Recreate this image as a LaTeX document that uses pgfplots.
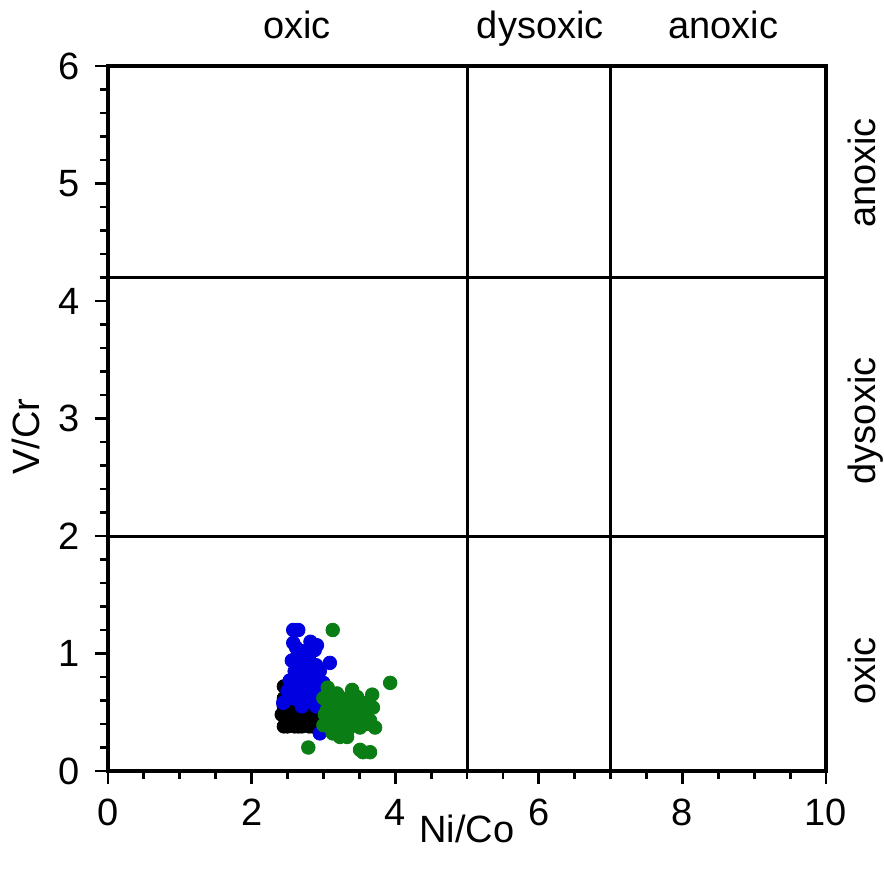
\documentclass[border=0pt]{standalone}
\usepackage{fontspec}
\setmainfont{Liberation Sans}
\usepackage{pgfplots}
\pgfplotsset{compat=1.18}
\definecolor{dotblue}{RGB}{0,0,225}
\definecolor{dotgreen}{RGB}{10,125,20}
\begin{document}
\fontsize{19}{22}\selectfont
\begin{tikzpicture}
\useasboundingbox (-54pt,-54pt) rectangle (388pt,385.5pt);
\begin{axis}[
  scale only axis, width=359pt, height=352.5pt,
  xmin=0, xmax=10, ymin=0, ymax=6,
  xtick={0,2,...,10}, ytick={0,1,...,6},
  minor x tick num=3, minor y tick num=4,
  tick align=outside, xtick pos=bottom, ytick pos=left,
  major tick length=6.5pt, minor tick length=4pt,
  axis line style={line width=1.8pt},
  every tick/.style={black, line width=1.4pt},
  tick label style={font=\fontsize{19}{22}\selectfont},
  /pgf/number format/assume math mode=true,
  xticklabel style={yshift=-1pt},
  yticklabel style={xshift=-1pt},
  clip=false,
]
\addplot[black, line width=1.5pt] coordinates {(5,0) (5,6)};
\addplot[black, line width=1.5pt] coordinates {(7,0) (7,6)};
\addplot[black, line width=1.5pt] coordinates {(0,2) (10,2)};
\addplot[black, line width=1.5pt] coordinates {(0,4.2) (10,4.2)};

\addplot[only marks, mark=*, mark size=3.4pt, color=black] table {
2.45 0.72
2.50 0.65
2.45 0.55
2.50 0.45
2.45 0.38
2.55 0.40
2.60 0.38
2.65 0.42
2.70 0.38
2.75 0.40
2.80 0.38
2.85 0.42
2.90 0.40
2.55 0.50
2.65 0.50
2.75 0.50
2.85 0.50
2.60 0.60
2.50 0.58
2.70 0.60
2.55 0.70
2.90 0.55
2.80 0.45
2.95 0.45
2.60 0.45
2.42 0.48
2.45 0.62
2.50 0.38
2.55 0.58
2.65 0.38
2.70 0.48
2.75 0.58
2.85 0.38
2.60 0.52
};
\addplot[only marks, mark=*, mark size=3.4pt, color=dotblue] table {
2.58 1.20
2.65 1.20
2.58 1.09
2.91 1.07
2.88 1.03
3.09 0.92
2.56 0.94
2.53 0.77
2.44 0.58
2.95 0.32
3.33 0.50
3.12 0.54
2.60 0.95
2.70 0.90
2.80 0.95
2.75 0.85
2.65 0.80
2.85 0.80
2.60 0.70
2.70 0.72
2.80 0.70
2.90 0.75
2.75 0.65
2.85 0.62
2.95 0.68
2.55 0.62
2.65 0.60
3.00 0.60
2.78 1.00
2.82 1.10
2.90 0.55
2.70 0.55
2.62 1.05
2.70 1.02
2.75 0.95
2.68 0.98
2.72 0.78
2.80 0.85
2.90 0.90
2.60 0.85
2.95 0.85
3.00 0.75
2.50 0.68
2.85 0.68
2.70 0.65
};
\addplot[only marks, mark=*, mark size=3.4pt, color=dotgreen] table {
3.13 1.20
3.93 0.75
3.40 0.69
3.68 0.65
3.19 0.66
3.47 0.63
2.79 0.20
3.55 0.16
3.65 0.16
3.06 0.71
3.69 0.54
3.72 0.37
3.00 0.62
3.00 0.39
3.23 0.29
3.33 0.29
3.51 0.37
3.51 0.18
3.47 0.52
3.61 0.52
3.13 0.49
3.23 0.43
3.37 0.43
3.09 0.37
3.19 0.55
3.33 0.58
3.55 0.46
3.65 0.43
3.05 0.52
3.41 0.60
3.27 0.32
3.13 0.32
3.02 0.48
3.45 0.40
3.30 0.50
3.40 0.50
3.20 0.38
3.35 0.36
3.55 0.58
3.60 0.40
3.10 0.60
3.25 0.62
3.15 0.42
};

\node[anchor=base, inner sep=0pt, yshift=14pt] at (axis cs:2.63,6) {oxic};
\node[anchor=base, inner sep=0pt, yshift=14pt] at (axis cs:6.02,6) {dysoxic};
\node[anchor=base, inner sep=0pt, yshift=14pt] at (axis cs:8.57,6) {anoxic};
\node[xshift=24.5pt, anchor=base, inner sep=0pt, rotate=90] at (axis cs:10,5.09) {anoxic};
\node[xshift=24.5pt, anchor=base, inner sep=0pt, rotate=90] at (axis cs:10,2.98) {dysoxic};
\node[xshift=24.5pt, anchor=base, inner sep=0pt, rotate=90] at (axis cs:10,0.85) {oxic};
\node[anchor=north, inner sep=0pt, yshift=-22pt] at (axis description cs:0.5,0) {Ni/Co};
\node[xshift=-41pt, anchor=center, inner sep=0pt, rotate=90] at (axis description cs:0,0.474) {V/Cr};
\end{axis}
\end{tikzpicture}
\end{document}
